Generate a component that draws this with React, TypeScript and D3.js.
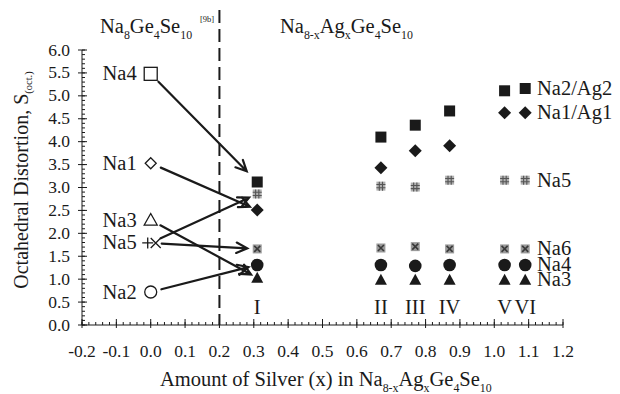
import React from 'react';
import * as d3 from 'd3';

// Parent compound Na8Ge4Se10: octahedral distortion per sodium site (x = 0)
const parentSites = ['Na4', 'Na1', 'Na3', 'Na5', 'Na2'];
const parentValues = [5.48, 3.53, 2.29, 1.79, 0.72];

// Silver-substituted samples Na(8-x)Ag(x)Ge4Se10
const samples = ['I', 'II', 'III', 'IV', 'V', 'VI'];
const silverX = [0.31, 0.67, 0.77, 0.87, 1.03, 1.09];
const seriesNames = ['Na2/Ag2', 'Na1/Ag1', 'Na5', 'Na6', 'Na4', 'Na3'];
const na2Ag2 = [3.12, 4.1, 4.36, 4.67, 5.11, 5.16];
const na1Ag1 = [2.51, 3.43, 3.8, 3.91, 4.63, 4.63];
const na5 = [2.86, 3.03, 3.01, 3.16, 3.16, 3.16];
const na6 = [1.66, 1.68, 1.71, 1.66, 1.66, 1.66];
const na4 = [1.31, 1.31, 1.29, 1.31, 1.31, 1.31];
const na3 = [1.03, 0.99, 0.99, 0.99, 0.99, 0.99];
const seriesValues = [na2Ag2, na1Ag1, na5, na6, na4, na3];

// Site correspondences from the parent compound to sample I
const arrowSources = ['Na4', 'Na1', 'Na5', 'Na5', 'Na3', 'Na2'];
const arrowTargets = ['Na2/Ag2', 'Na1/Ag1', 'Na5', 'Na6', 'Na3', 'Na4'];

const xTicks = d3.range(-0.2, 1.2001, 0.1);
const yTicks = d3.range(0, 6.0001, 0.5);

const W = 620;
const H = 394;
const FONT = "'Liberation Serif'";
const INK = '#1a1a1a';
const LABEL = 20.5;

const x = d3.scaleLinear().domain([-0.2, 1.2]).range([82, 563]);
const y = d3.scaleLinear().domain([0, 6]).range([325, 50]);
const fmt = (v: number) => d3.format('.1f')(v).replace('\u2212', '-');

type Part = [string, boolean];

function Label({ px, py, size, anchor, children }: { px: number; py: number; size: number; anchor?: string; children: React.ReactNode }) {
  return (
    <text x={px} y={py} textAnchor={anchor || 'start'} fill={INK} style={{ fontFamily: FONT, fontSize: size }}>
      {children}
    </text>
  );
}

function Formula({ px, py, parts, size }: { px: number; py: number; parts: Part[]; size: number }) {
  let shifted = false;
  return (
    <Label px={px} py={py} size={size}>
      {parts.map(([t, sub], i) => {
        let dy = 0;
        if (sub && !shifted) { dy = size * 0.28; shifted = true; }
        else if (!sub && shifted) { dy = -size * 0.28; shifted = false; }
        return (
          <tspan key={i} dy={dy} style={{ fontFamily: FONT, fontSize: sub ? size * 0.58 : size }}>{t}</tspan>
        );
      })}
    </Label>
  );
}

function FilledMarker({ name, cx, cy }: { name: string; cx: number; cy: number }) {
  if (name === 'Na2/Ag2') return <rect x={cx - 5.5} y={cy - 5.5} width={11} height={11} fill={INK} />;
  if (name === 'Na1/Ag1') {
    const r = 6.5;
    return <path d={`M${cx},${cy - r}L${cx + r},${cy}L${cx},${cy + r}L${cx - r},${cy}Z`} fill={INK} />;
  }
  if (name === 'Na4') return <circle cx={cx} cy={cy} r={6.3} fill={INK} />;
  if (name === 'Na3') {
    return <path d={`M${cx},${cy - 6}L${cx + 6},${cy + 5}L${cx - 6},${cy + 5}Z`} fill={INK} />;
  }
  if (name === 'Na6') {
    const h = 4.5;
    return (
      <g>
        <rect x={cx - h} y={cy - h} width={2 * h} height={2 * h} fill="#9a9a9a" />
        <path d={`M${cx - h + 1.5},${cy - h + 1.5}L${cx + h - 1.5},${cy + h - 1.5}M${cx + h - 1.5},${cy - h + 1.5}L${cx - h + 1.5},${cy + h - 1.5}`} stroke="#3a3a3a" strokeWidth={1.6} />
      </g>
    );
  }
  // Na5: grey square hatched with a '#'
  const h = 4.5;
  return (
    <g>
      <rect x={cx - h} y={cy - h} width={2 * h} height={2 * h} fill="#b0b0b0" />
      <path d={`M${cx - 1.6},${cy - h}V${cy + h}M${cx + 1.6},${cy - h}V${cy + h}M${cx - h},${cy - 1.6}H${cx + h}M${cx - h},${cy + 1.6}H${cx + h}`} stroke="#555" strokeWidth={1.1} />
    </g>
  );
}

function OpenMarker({ name, cx, cy }: { name: string; cx: number; cy: number }) {
  const s = { fill: 'white', stroke: INK, strokeWidth: 1.3 };
  if (name === 'Na4') return <rect x={cx - 6.5} y={cy - 6.5} width={13} height={13} {...s} />;
  if (name === 'Na1') {
    const r = 5.5;
    return <path d={`M${cx},${cy - r}L${cx + r},${cy}L${cx},${cy + r}L${cx - r},${cy}Z`} {...s} />;
  }
  if (name === 'Na3') return <path d={`M${cx},${cy - 6.5}L${cx + 6.5},${cy + 5}L${cx - 6.5},${cy + 5}Z`} {...s} />;
  if (name === 'Na2') return <circle cx={cx} cy={cy} r={6} {...s} />;
  // Na5: overlapping '+' and '×'
  const a = cx - 3;
  const b = cx + 5;
  return (
    <g stroke={INK} strokeWidth={1.3} fill="none">
      <path d={`M${a - 5.5},${cy}H${a + 5.5}M${a},${cy - 5.5}V${cy + 5.5}`} />
      <path d={`M${b - 5},${cy - 5}L${b + 5},${cy + 5}M${b + 5},${cy - 5}L${b - 5},${cy + 5}`} />
    </g>
  );
}

export default function App() {
  const x0 = x(0);
  const xI = x(silverX[0]);
  const endGaps = [15, 8, 9, 10, 7, 9];
  const startGap = 11;

  const arrows = arrowSources.map((src, i) => {
    const v0 = parentValues[parentSites.indexOf(src)];
    const v1 = seriesValues[seriesNames.indexOf(arrowTargets[i])][0];
    const p0 = [x0, y(v0)];
    const p1 = [xI, y(v1)];
    const dx = p1[0] - p0[0];
    const dy = p1[1] - p0[1];
    const len = Math.hypot(dx, dy);
    const ux = dx / len;
    const uy = dy / len;
    const s = [p0[0] + ux * startGap, p0[1] + uy * startGap];
    const e = [p1[0] - ux * endGaps[i], p1[1] - uy * endGaps[i]];
    const ang = Math.atan2(uy, ux);
    const hl = 12;
    const spread = 0.45;
    const h1 = [e[0] - hl * Math.cos(ang - spread), e[1] - hl * Math.sin(ang - spread)];
    const h2 = [e[0] - hl * Math.cos(ang + spread), e[1] - hl * Math.sin(ang + spread)];
    return `M${s[0]},${s[1]}L${e[0]},${e[1]}M${h1[0]},${h1[1]}L${e[0]},${e[1]}L${h2[0]},${h2[1]}`;
  });

  const minorX = d3.range(-0.2, 1.2001, 0.02);
  const minorY = d3.range(0, 6.0001, 0.1);

  return (
    <svg width={W} height={H} style={{ position: 'absolute', left: 0, top: 0, background: 'white' }}>
      {/* axes */}
      <g stroke={INK} strokeWidth={1} fill="none">
        <line x1={x(-0.2)} x2={x(1.2)} y1={y(0)} y2={y(0)} />
        <line x1={x(-0.2)} x2={x(-0.2)} y1={y(0)} y2={y(6)} />
        {minorX.map((t, i) => (
          <line key={'mx' + i} x1={x(t)} x2={x(t)} y1={y(0)} y2={y(0) - 3} />
        ))}
        {xTicks.map((t, i) => (
          <line key={'jx' + i} x1={x(t)} x2={x(t)} y1={y(0) + 3} y2={y(0) - 6} />
        ))}
        {minorY.map((t, i) => (
          <line key={'my' + i} x1={x(-0.2)} x2={x(-0.2) + 3} y1={y(t)} y2={y(t)} />
        ))}
        {yTicks.map((t, i) => (
          <line key={'jy' + i} x1={x(-0.2) - 4} x2={x(-0.2) + 5} y1={y(t)} y2={y(t)} />
        ))}
      </g>
      {xTicks.map((t, i) => (
        <Label key={'tx' + i} px={x(t)} py={357} size={17.5} anchor="middle">{fmt(t)}</Label>
      ))}
      {yTicks.map((t, i) => (
        <Label key={'ty' + i} px={70} py={y(t) + 5.5} size={17.5} anchor="end">{fmt(t)}</Label>
      ))}

      {/* boundary between parent and substituted compounds */}
      <line x1={x(0.2)} x2={x(0.2)} y1={10} y2={y(0)} stroke={INK} strokeWidth={2} strokeDasharray="13,6" />

      {/* titles of the two regions */}
      <Formula px={100} py={33} size={LABEL} parts={[['Na', false], ['8', true], ['Ge', false], ['4', true], ['Se', false], ['10', true]]} />
      <Label px={200} py={22} size={8.5}>[9b]</Label>
      <Formula px={280} py={33} size={LABEL} parts={[['Na', false], ['8-x', true], ['Ag', false], ['x', true], ['Ge', false], ['4', true], ['Se', false], ['10', true]]} />

      {/* axis titles */}
      <g transform={`translate(28, 180) rotate(-90)`}>
        <Label px={0} py={0} size={20} anchor="middle">
          Octahedral Distortion, S<tspan dy={4} style={{ fontFamily: FONT, fontSize: 10.5 }}>(oct.)</tspan>
        </Label>
      </g>
      <Formula px={160} py={386} size={LABEL} parts={[['Amount of Silver (x) in Na', false], ['8-x', true], ['Ag', false], ['x', true], ['Ge', false], ['4', true], ['Se', false], ['10', true]]} />

      {/* arrows */}
      <g stroke={INK} strokeWidth={2.2} fill="none" strokeLinecap="round" strokeLinejoin="miter">
        {arrows.map((d, i) => <path key={'ar' + i} d={d} />)}
      </g>

      {/* parent compound sites */}
      {parentSites.map((s, i) => (
        <g key={'p' + i}>
          <OpenMarker name={s} cx={x0} cy={y(parentValues[i])} />
          <Label px={x0 - 14} py={y(parentValues[i]) + 6.5} size={LABEL} anchor="end">{s}</Label>
        </g>
      ))}

      {/* substituted samples */}
      {seriesNames.map((name, si) => (
        <g key={'s' + si}>
          {silverX.map((sx, j) => (
            <FilledMarker key={j} name={name} cx={x(sx)} cy={y(seriesValues[si][j])} />
          ))}
        </g>
      ))}

      {/* sample numerals */}
      {samples.map((s, j) => (
        <Label key={'n' + j} px={x(silverX[j])} py={314} size={LABEL} anchor="middle">{s}</Label>
      ))}

      {/* site labels beside the last sample */}
      {seriesNames.map((name, si) => (
        <Label key={'l' + si} px={537} py={y(seriesValues[si][5]) + 6.5} size={LABEL}>{name}</Label>
      ))}
    </svg>
  );
}
